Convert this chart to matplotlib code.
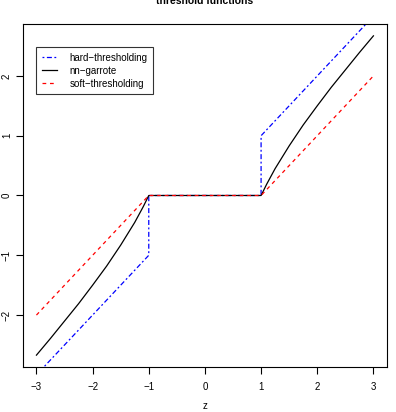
import matplotlib
matplotlib.use('Agg')
import matplotlib.pyplot as plt

plt.rcParams['font.family'] = ['Liberation Sans', 'DejaVu Sans']

# values
z_hard = [-3, -1, -1, 1, 1, 3]
y_hard = [-3, -1, 0, 0, 1, 3]

z_garrote = [-3.0, -2.75, -2.5, -2.25, -2.0, -1.75, -1.5, -1.25, -1.1, -1.0,
             1.0, 1.1, 1.25, 1.5, 1.75, 2.0, 2.25, 2.5, 2.75, 3.0]
y_garrote = [-2.67, -2.39, -2.1, -1.81, -1.5, -1.18, -0.83, -0.45, -0.19, 0.0,
             0.0, 0.19, 0.45, 0.83, 1.18, 1.5, 1.81, 2.1, 2.39, 2.67]

z_soft = [-3, -1, 1, 3]
y_soft = [-2, 0, 0, 2]

xticks = [-3, -2, -1, 0, 1, 2, 3]
yticks = [-2, -1, 0, 1, 2]

fig = plt.figure(figsize=(3.96, 4.12), dpi=100)
ax = fig.add_axes([0.058, 0.109, 0.919, 0.833])

ax.plot(z_hard, y_hard, color='blue', lw=0.9, linestyle=(0, (1.5, 2, 4, 2)),
        label='hard\u2212thresholding')
ax.plot(z_garrote, y_garrote, color='black', lw=0.9, label='nn\u2212garrote')
ax.plot(z_soft, y_soft, color='red', lw=0.9, linestyle=(0, (3, 3)),
        label='soft\u2212thresholding')

ax.set_xlim(-3.24, 3.24)
ax.set_ylim(-2.87, 2.87)
ax.set_xticks(xticks)
ax.set_xticklabels(['\u22123', '\u22122', '\u22121', '0', '1', '2', '3'])
ax.set_yticks(yticks)
ax.set_yticklabels(['\u22122', '\u22121', '0', '1', '2'], rotation=90, va='center')
ax.tick_params(direction='out', length=5, width=0.8, labelsize=7)
ax.tick_params(axis='x', pad=6)
ax.tick_params(axis='y', pad=3)
for s in ax.spines.values():
    s.set_linewidth(0.8)

fig.text(205 / 396, 1 - 406 / 412, 'z', ha='center', va='center', fontsize=7)

leg = ax.legend(loc='upper left', bbox_to_anchor=(0.036, 0.933), fontsize=7,
                frameon=True, fancybox=False, edgecolor='black',
                handlelength=1.55, handletextpad=1.3, borderpad=0.6,
                labelspacing=0.3, borderaxespad=0)
leg.get_frame().set_linewidth(0.8)

fig.text(205 / 396, 1 - 1.5 / 412, 'threshold functions', ha='center', va='center',
         fontsize=7.5, fontweight='bold')

fig.savefig('out.png', dpi=100)
